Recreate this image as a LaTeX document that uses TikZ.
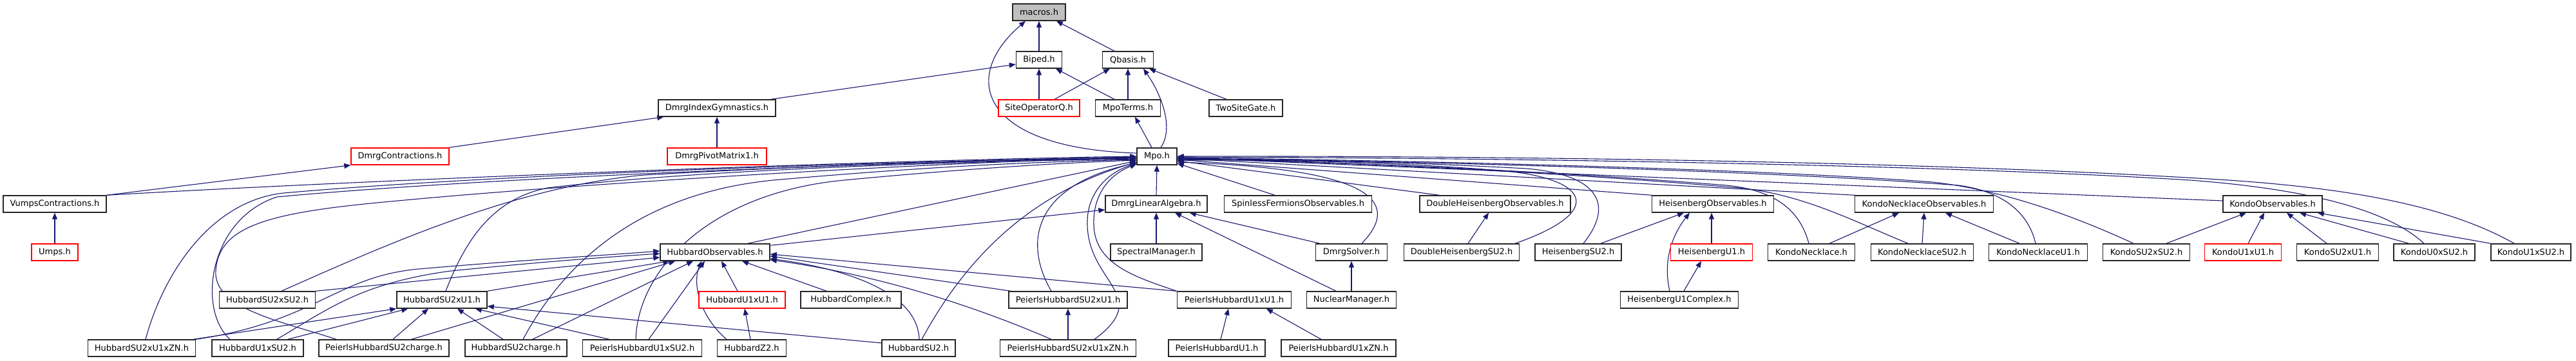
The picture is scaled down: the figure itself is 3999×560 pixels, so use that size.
\documentclass[tikz,border=0pt]{standalone}
\usepackage{fontspec}
\setmainfont{DejaVu Sans}
\usetikzlibrary{arrows.meta,calc}
\definecolor{edgec}{HTML}{191970}
\definecolor{grayfill}{HTML}{BFBFBF}
\pgfdeclarelayer{bgfill}
\pgfdeclarelayer{edges}
\pgfsetlayers{bgfill,edges,main}
\begin{document}
\begin{tikzpicture}[x=1pt,y=-1pt,
 box/.style={draw=black!85, line width=1.4pt, fill=white, minimum height=26pt, inner sep=0pt, font=\fontsize{13}{15}\selectfont},
 redbox/.style={box, draw=red},
 conn/.style={draw=edgec, line width=1.1pt, -{Triangle[length=10pt,width=8pt]}}]
\begin{pgfonlayer}{bgfill}
\path[use as bounding box, fill=white] (0,0) rectangle (3999,560);
\end{pgfonlayer}
% row 0-3
\node[box, fill=grayfill, minimum width=82pt] (macros) at (1613,19) {macros.h};
\node[box, minimum width=71pt] (biped) at (1613,93) {Biped.h};
\node[box, minimum width=79pt] (qbasis) at (1751,93) {Qbasis.h};
\node[box, minimum width=182pt] (dig) at (1113,168) {DmrgIndexGymnastics.h};
\node[redbox, minimum width=126pt] (siteop) at (1613,168) {SiteOperatorQ.h};
\node[box, minimum width=101pt] (mpoterms) at (1751,168) {MpoTerms.h};
\node[box, minimum width=114pt] (twosite) at (1934,168) {TwoSiteGate.h};
\node[redbox, minimum width=152pt] (dcontr) at (621,243) {DmrgContractions.h};
\node[redbox, minimum width=154pt] (dpivot) at (1113,243) {DmrgPivotMatrix1.h};
\node[box, minimum width=62pt] (mpo) at (1796,243) {Mpo.h};
% row 4
\node[box, minimum width=160pt] (vumps) at (85,317) {VumpsContractions.h};
\node[box, minimum width=158pt] (dla) at (1795,317) {DmrgLinearAlgebra.h};
\node[box, minimum width=229pt] (spinless) at (2015,317) {SpinlessFermionsObservables.h};
\node[box, minimum width=234pt] (dhobs) at (2321,317) {DoubleHeisenbergObservables.h};
\node[box, minimum width=189pt] (hobs) at (2659,317) {HeisenbergObservables.h};
\node[box, minimum width=215pt] (knobs) at (2987,317) {KondoNecklaceObservables.h};
\node[box, minimum width=154pt] (kobs) at (3528,317) {KondoObservables.h};
% row 5
\node[redbox, minimum width=72pt] (umps) at (85,392) {Umps.h};
\node[box, minimum width=170pt] (hubobs) at (1110,392) {HubbardObservables.h};
\node[box, minimum width=142pt] (spectral) at (1795,392) {SpectralManager.h};
\node[box, minimum width=111pt] (dsolver) at (2098,392) {DmrgSolver.h};
\node[box, minimum width=179pt] (dhsu2) at (2269,392) {DoubleHeisenbergSU2.h};
\node[box, minimum width=134pt] (heisu2) at (2450,392) {HeisenbergSU2.h};
\node[redbox, minimum width=127pt] (heiu1) at (2657,392) {HeisenbergU1.h};
\node[box, minimum width=135pt] (kn) at (2812,392) {KondoNecklace.h};
\node[box, minimum width=159pt] (knsu2) at (2984,392) {KondoNecklaceSU2.h};
\node[box, minimum width=153pt] (knu1) at (3164,392) {KondoNecklaceU1.h};
\node[box, minimum width=135pt] (ksu2su2) at (3332,392) {KondoSU2xSU2.h};
\node[redbox, minimum width=119pt] (ku1u1) at (3482,392) {KondoU1xU1.h};
\node[box, minimum width=127pt] (ksu2u1) at (3629,392) {KondoSU2xU1.h};
\node[box, minimum width=126pt] (ku0su2) at (3779,392) {KondoU0xSU2.h};
\node[box, minimum width=124pt] (ku1su2) at (3929,392) {KondoU1xSU2.h};
% row 6
\node[box, minimum width=149pt] (hsu2su2) at (415,466) {HubbardSU2xSU2.h};
\node[box, minimum width=140pt] (hsu2u1) at (686,466) {HubbardSU2xU1.h};
\node[redbox, minimum width=134pt] (hu1u1) at (1152,466) {HubbardU1xU1.h};
\node[box, minimum width=156pt] (hcomplex) at (1321,466) {HubbardComplex.h};
\node[box, minimum width=184pt] (phsu2u1) at (1658,466) {PeierlsHubbardSU2xU1.h};
\node[box, minimum width=177pt] (phu1u1) at (1916,466) {PeierlsHubbardU1xU1.h};
\node[box, minimum width=139pt] (nuclear) at (2098,466) {NuclearManager.h};
\node[box, minimum width=183pt] (heiu1c) at (2607,466) {HeisenbergU1Complex.h};
% row 7
\node[box, minimum width=167pt] (hsu2u1zn) at (220,541) {HubbardSU2xU1xZN.h};
\node[box, minimum width=142pt] (hu1su2) at (400,541) {HubbardU1xSU2.h};
\node[box, minimum width=202pt] (phsu2ch) at (596,541) {PeierlsHubbardSU2charge.h};
\node[box, minimum width=158pt] (hsu2ch) at (801,541) {HubbardSU2charge.h};
\node[box, minimum width=185pt] (phu1su2) at (997,541) {PeierlsHubbardU1xSU2.h};
\node[box, minimum width=107pt] (hz2) at (1167,541) {HubbardZ2.h};
\node[box, minimum width=114pt] (hsu2) at (1426,541) {HubbardSU2.h};
\node[box, minimum width=211pt] (phsu2u1zn) at (1658,541) {PeierlsHubbardSU2xU1xZN.h};
\node[box, minimum width=150pt] (phu1) at (1889,541) {PeierlsHubbardU1.h};
\node[box, minimum width=178pt] (phu1zn) at (2078,541) {PeierlsHubbardU1xZN.h};

\begin{pgfonlayer}{edges}
% ---- top part
\draw[conn] (biped.north) -- (macros.south);
\draw[conn] ($(qbasis.north)+(-21,0)$) -- ($(macros.south)+(27,0)$);
\draw[conn] ($(mpo.west)+(0,-5)$) .. controls (1520,230) and (1490,120) .. ($(macros.south)+(-21,0)$);
\draw[conn] (siteop.north) -- (biped.south);
\draw[conn] ($(siteop.north)+(24,0)$) -- ($(qbasis.south)+(-28,0)$);
\draw[conn] ($(mpoterms.north)+(-21,0)$) -- ($(biped.south)+(26,0)$);
\draw[conn] (mpoterms.north) -- (qbasis.south);
\draw[conn] ($(twosite.north)+(-30,0)$) -- ($(qbasis.south)+(33,0)$);
\draw[conn] ($(mpo.north)+(-8,0)$) -- ($(mpoterms.south)+(11,0)$);
\draw[conn] ($(mpo.north)+(6,0)$) .. controls (1822,200) and (1805,150) .. ($(qbasis.south)+(24,0)$);
\draw[conn] ($(dig.north east)+(-8,0)$) -- ($(biped.west)+(0,7)$);
\draw[conn] ($(dcontr.north east)+(-1,0)$) -- ($(dig.south west)+(9,0)$);
\draw[conn] (dpivot.north) -- (dig.south);
\draw[conn] (vumps.north east) -- (dcontr.south west);
\draw[conn] (umps.north) -- (vumps.south);

% ---- into Mpo from the left
\draw[conn] (vumps.north east) .. controls (600,278) and (1400,248) .. ($(mpo.west)+(0,0)$);
\draw[conn] ($(hsu2u1zn.north)+(6,0)$) .. controls (255,420) and (330,312) .. (440,300) .. controls (800,268) and (1450,250) .. ($(mpo.west)+(0,1)$);
\draw[conn] ($(hu1su2.north)+(-43,0)$) .. controls (305,480) and (325,340) .. (430,306) .. controls (800,272) and (1450,251) .. ($(mpo.west)+(0,1)$);
\draw[conn] ($(phsu2ch.north)+(-74,0)$) .. controls (440,500) and (330,480) .. (335,420) .. controls (340,350) and (420,330) .. (607,313) .. controls (900,285) and (1450,252) .. ($(mpo.west)+(0,2)$);
\draw[conn] ($(hsu2su2.north)+(22,0)$) .. controls (600,380) and (800,290) .. (1000,272) .. controls (1300,255) and (1550,249) .. ($(mpo.west)+(0,3)$);
\draw[conn] ($(hsu2u1.north)+(6,0)$) .. controls (720,380) and (760,310) .. (850,292) .. controls (1100,262) and (1500,251) .. ($(mpo.west)+(0,4)$);
\draw[conn] ($(hsu2ch.north)+(11,0)$) .. controls (880,400) and (1000,300) .. (1200,280) .. controls (1450,258) and (1600,252) .. ($(mpo.west)+(0,5)$);
\draw[conn] ($(phu1su2.north)+(-10,0)$) .. controls (990,420) and (1100,300) .. (1310,280) .. controls (1500,262) and (1650,253) .. ($(mpo.west)+(0,6)$);
\draw[conn] ($(hubobs.north)+(51,0)$) -- ($(mpo.west)+(0,7)$);
\draw[conn] ($(hsu2.north)+(5,0)$) .. controls (1500,400) and (1600,300) .. ($(mpo.west)+(0,9)$);
\draw[conn] ($(phsu2u1.north)+(-26,0)$) .. controls (1590,380) and (1600,290) .. ($(mpo.west)+(0,10)$);
\draw[conn] ($(phsu2u1zn.north)+(41,0)$) .. controls (1790,460) and (1690,440) .. (1688,350) .. controls (1686,300) and (1720,268) .. ($(mpo.west)+(0,11)$);
\draw[conn] (phu1u1.north west) .. controls (1760,430) and (1700,410) .. (1698,350) .. controls (1696,300) and (1725,270) .. ($(mpo.west)+(0,12)$);
\draw[conn] (dla.north) -- (mpo.south);

% ---- into Mpo from the right
\draw[conn] ($(spinless.north)+(-36,0)$) -- ($(mpo.east)+(0,11)$);
\draw[conn] ($(dsolver.north)+(16,0)$) .. controls (2180,310) and (2120,262) .. ($(mpo.east)+(0,9)$);
\draw[conn] ($(dhobs.north west)+(31,0)$) -- ($(mpo.east)+(0,7)$);
\draw[conn] ($(dhsu2.north east)+(-7,0)$) .. controls (2490,330) and (2470,280) .. (2340,266) .. controls (2150,250) and (1950,248) .. ($(mpo.east)+(0,6)$);
\draw[conn] ($(heisu2.north)+(8,0)$) .. controls (2505,320) and (2485,272) .. (2370,262) .. controls (2150,250) and (1950,247) .. ($(mpo.east)+(0,6)$);
\draw[conn] (hobs.north west) -- ($(mpo.east)+(0,5)$);
\draw[conn] ($(kn.north)+(-4,0)$) .. controls (2795,330) and (2760,296) .. (2680,288) .. controls (2400,265) and (2050,250) .. ($(mpo.east)+(0,4)$);
\draw[conn] ($(knsu2.north)+(-22,0)$) .. controls (2880,345) and (2800,302) .. (2700,292) .. controls (2400,266) and (2050,250) .. ($(mpo.east)+(0,4)$);
\draw[conn] (knobs.north west) -- ($(mpo.east)+(0,3)$);
\draw[conn] ($(knu1.north)+(-4,0)$) .. controls (3150,335) and (3115,298) .. (3040,288) .. controls (2700,262) and (2100,249) .. ($(mpo.east)+(0,3)$);
\draw[conn] ($(ksu2su2.north)+(-20,0)$) .. controls (3240,345) and (3120,296) .. (3000,283) .. controls (2700,260) and (2100,248) .. ($(mpo.east)+(0,2)$);
\draw[conn] ($(kobs.west)+(0,-5)$) -- ($(mpo.east)+(0,2)$);
\draw[conn] ($(ku0su2.north)+(-16,0)$) .. controls (3700,320) and (3560,292) .. (3400,280) .. controls (3000,255) and (2300,245) .. ($(mpo.east)+(0,1)$);
\draw[conn] ($(ku1su2.north)+(-26,0)$) .. controls (3800,320) and (3650,293) .. (3460,280) .. controls (3000,250) and (2300,242) .. ($(mpo.east)+(0,0)$);

% ---- Kondo
\draw[conn] ($(ksu2su2.north)+(31,0)$) -- ($(kobs.south)+(-41,0)$);
\draw[conn] ($(ku1u1.north)+(8,0)$) -- ($(kobs.south)+(-13,0)$);
\draw[conn] ($(ksu2u1.north)+(-17,0)$) -- ($(kobs.south)+(22,0)$);
\draw[conn] ($(ku0su2.north west)+(24,0)$) -- ($(kobs.south)+(42,0)$);
\draw[conn] (ku1su2.north west) -- ($(kobs.south east)+(-8,0)$);
\draw[conn] ($(kn.north)+(28,0)$) -- ($(knobs.south)+(-39,0)$);
\draw[conn] (knsu2.north) -- (knobs.south);
\draw[conn] ($(knu1.north)+(-29,0)$) -- ($(knobs.south)+(33,0)$);

% ---- Heisenberg
\draw[conn] ($(heisu2.north)+(35,0)$) -- ($(hobs.south)+(-45,0)$);
\draw[conn] (heiu1.north) -- ($(hobs.south)+(-2,0)$);
\draw[conn] ($(heiu1c.north)+(-15,0)$) .. controls (2580,400) and (2600,360) .. ($(hobs.south)+(-36,0)$);
\draw[conn] ($(heiu1c.north)+(7,0)$) -- ($(heiu1.south)+(-16,0)$);
\draw[conn] ($(dhsu2.north)+(10,0)$) -- ($(dhobs.south)+(-10,0)$);

% ---- DmrgLinearAlgebra, solver
\draw[conn] ($(dsolver.north west)+(7,0)$) -- ($(dla.south east)+(-28,0)$);
\draw[conn] ($(nuclear.north)+(-24,0)$) -- ($(dla.south)+(29,0)$);
\draw[conn] (nuclear.north) -- (dsolver.south);
\draw[conn] (spectral.north) -- (dla.south);
\draw[conn] ($(hubobs.north east)+(1,3)$) -- ($(dla.west)+(0,9)$);

% ---- Peierls
\draw[conn] ($(phu1.north)+(6,0)$) -- ($(phu1u1.south)+(-9,0)$);
\draw[conn] ($(phu1zn.north)+(-27,0)$) -- ($(phu1u1.south)+(50,0)$);
\draw[conn] (phsu2u1zn.north) -- (phsu2u1.south);

% ---- into HubbardObservables
\draw[conn] (hsu2su2.north east) -- ($(hubobs.west)+(0,8)$);
\draw[conn] (hsu2u1.north east) -- ($(hubobs.south west)+(15,0)$);
\draw[conn] ($(hu1u1.north)+(-7,0)$) -- ($(hubobs.south)+(10,0)$);
\draw[conn] ($(hcomplex.north)+(-38,0)$) -- ($(hubobs.south)+(42,0)$);
\draw[conn] (hsu2u1zn.north east) .. controls (490,500) and (520,430) .. (650,418) .. controls (800,405) and (950,396) .. ($(hubobs.west)+(0,-2)$);
\draw[conn] ($(hu1su2.north east)+(-42,0)$) .. controls (510,480) and (560,440) .. (700,421) .. controls (850,406) and (950,399) .. ($(hubobs.west)+(0,2)$);
\draw[conn] ($(phsu2ch.north east)+(-59,0)$) -- ($(hubobs.south west)+(24,0)$);
\draw[conn] ($(hsu2ch.north east)+(-54,0)$) -- ($(hubobs.south)+(-34,0)$);
\draw[conn] ($(phu1su2.north)+(10,0)$) -- ($(hubobs.south)+(-16,0)$);
\draw[conn] ($(hz2.north west)+(15,0)$) .. controls (1085,490) and (1075,440) .. ($(hubobs.south)+(-21,0)$);
\draw[conn] ($(hz2.north)+(-2,0)$) -- ($(hu1u1.south)+(4,0)$);
\draw[conn] ($(hsu2.north)+(1,0)$) .. controls (1425,460) and (1330,420) .. ($(hubobs.east)+(0,10)$);
\draw[conn] ($(phsu2u1.north west)+(4,0)$) -- ($(hubobs.east)+(0,6)$);
\draw[conn] ($(phu1u1.north west)+(-1,0)$) -- ($(hubobs.east)+(0,3)$);
\draw[conn] ($(phsu2u1zn.north)+(-26,0)$) .. controls (1500,470) and (1350,425) .. ($(hubobs.south east)+(0,-2)$);

% ---- into HubbardSU2xU1
\draw[conn] ($(hsu2u1zn.north east)+(-4,0)$) -- (hsu2u1.south west);
\draw[conn] ($(hu1su2.north east)+(-25,0)$) -- ($(hsu2u1.south west)+(18,0)$);
\draw[conn] ($(phsu2ch.north)+(14,0)$) -- ($(hsu2u1.south)+(-21,0)$);
\draw[conn] ($(hsu2ch.north)+(-20,0)$) -- ($(hsu2u1.south)+(24,0)$);
\draw[conn] ($(phu1su2.north west)+(42,0)$) -- ($(hsu2u1.south east)+(-19,0)$);
\draw[conn] ($(hsu2.west)+(0,-8)$) -- ($(hsu2u1.east)+(0,10)$);
\end{pgfonlayer}
\end{tikzpicture}
\end{document}
